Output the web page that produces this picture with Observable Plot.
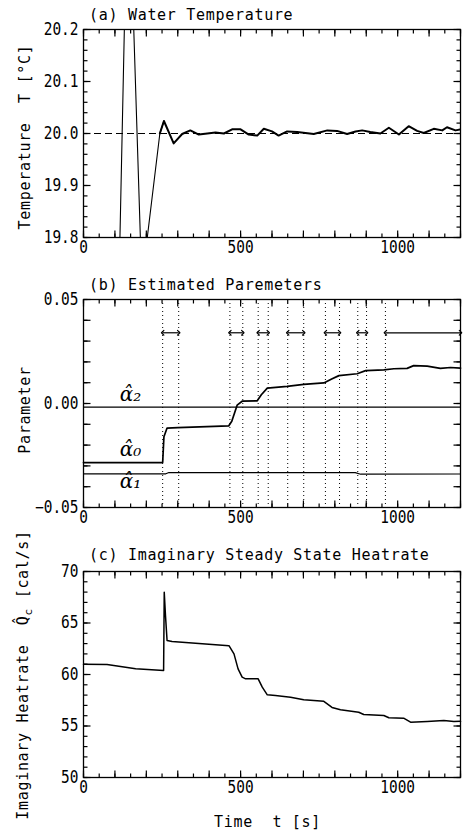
<!DOCTYPE html>
<html><head><meta charset="utf-8">
<script src="https://cdn.jsdelivr.net/npm/d3@7"></script>
<script src="https://cdn.jsdelivr.net/npm/@observablehq/plot@0.6"></script>
</head><body style="margin:0;background:#fff"><div id="root" style="position:relative;width:465px;height:833px;font-family:'DejaVu Sans Mono',monospace;color:#000"></div>
<script>
// ---------- shared x axis ----------
const xDomain = [0, 1200];
const xMinorTicks = d3.range(0, 1201, 50);
const xMajorTicks = d3.range(0, 1201, 100);
const xLabelTicks = [0, 500, 1000];

// ---------- (a) Water temperature ----------
const tempTime  = [105, 116, 130, 142, 160, 181, 186, 203, 243, 256, 287, 314, 340, 367, 394, 420, 447, 473, 500, 526, 553, 574, 600, 621, 648, 680, 733, 776, 807, 839, 866, 887, 913, 945, 972, 1004, 1035, 1062, 1083, 1115, 1142, 1157, 1184, 1200];
const tempValue = [19.49, 19.8, 20.2, 20.54, 20.2, 19.8, 19.71, 19.8, 20.0, 20.024, 19.981, 19.999, 20.006, 19.998, 20.0, 20.002, 20.0, 20.008, 20.008, 19.998, 19.996, 20.009, 20.004, 19.996, 20.004, 20.003, 19.999, 20.006, 20.005, 19.999, 20.004, 20.006, 20.003, 20.0, 20.011, 19.998, 20.014, 20.005, 20.001, 20.009, 20.006, 20.012, 20.006, 20.008];
const setPoint = [20.0];
const tempYLabels = [19.8, 19.9, 20.0, 20.1, 20.2];

// ---------- (b) Estimated parameters ----------
const alpha0Time  = [0, 252, 256, 266, 300, 462, 472, 489, 505, 553, 566, 585, 648, 701, 765, 790, 813, 871, 898, 956, 988, 1030, 1051, 1094, 1136, 1168, 1200];
const alpha0Value = [-0.0284, -0.0284, -0.016, -0.0118, -0.0116, -0.0108, -0.0085, -0.0008, 0.0011, 0.0013, 0.0042, 0.0074, 0.0082, 0.0092, 0.0099, 0.0118, 0.0134, 0.0143, 0.0158, 0.0162, 0.0167, 0.0169, 0.0182, 0.0180, 0.0169, 0.0173, 0.0170];
const alpha1Time  = [0, 262, 272, 865, 882, 1200];
const alpha1Value = [-0.0338, -0.0338, -0.0332, -0.0332, -0.0340, -0.0339];
const alpha2Time  = [0, 1200];
const alpha2Value = [-0.0017, -0.0017];
const windowLines = [252, 303, 466, 507, 556, 588, 650, 701, 770, 815, 873, 901, 961];
const arrowStart  = [252, 466, 556, 650, 770, 873, 961];
const arrowEnd    = [303, 507, 588, 701, 815, 901, 1200];
const arrowLevel  = 0.034;
const alphaNames  = ["α̂₂", "α̂₀", "α̂₁"];
const alphaLabelX = [150, 150, 150];
const alphaLabelY = [0.0042, -0.0224, -0.0374];
const paramYLabels = [-0.05, 0, 0.05];

// ---------- (c) Imaginary steady state heatrate ----------
const heatTime  = [0, 75, 166, 255, 257, 261, 266, 282, 378, 463, 479, 492, 505, 516, 556, 569, 585, 611, 659, 701, 765, 791, 818, 876, 892, 956, 972, 1019, 1041, 1094, 1147, 1179, 1200];
const heatValue = [61.0, 60.97, 60.55, 60.39, 67.99, 65.7, 63.3, 63.2, 62.98, 62.8, 62.0, 60.55, 59.74, 59.58, 59.58, 58.77, 58.03, 57.96, 57.8, 57.54, 57.4, 56.8, 56.57, 56.34, 56.12, 56.02, 55.8, 55.76, 55.37, 55.44, 55.53, 55.44, 55.45];
const heatYLabels = [50, 55, 60, 65, 70];

// ---------- helpers ----------
const root = document.getElementById("root");
const frameW = 465 - 83 - 5;

// inward ticks on all four sides: short links whose ends are placed through the scales
function frameTicks(h, yDomain, yMinor, yMajor) {
  const [y0, y1] = yDomain;
  const [x0, x1] = xDomain;
  const tx = (ticks, size) => {
    const dyv = size / h * (y1 - y0);
    return [
      Plot.link(ticks, {x1: d => d, x2: d => d, y1: () => y0, y2: () => y0 + dyv, strokeWidth: 1.2}),
      Plot.link(ticks, {x1: d => d, x2: d => d, y1: () => y1, y2: () => y1 - dyv, strokeWidth: 1.2})
    ];
  };
  const ty = (ticks, size) => {
    const dxv = size / frameW * (x1 - x0);
    return [
      Plot.link(ticks, {y1: d => d, y2: d => d, x1: () => x0, x2: () => x0 + dxv, strokeWidth: 1.2}),
      Plot.link(ticks, {y1: d => d, y2: d => d, x1: () => x1, x2: () => x1 - dxv, strokeWidth: 1.2})
    ];
  };
  return [...tx(xMinorTicks, 4), ...tx(xMajorTicks, 7), ...ty(yMinor, 4), ...ty(yMajor, 7)];
}

function panel(marginTop, h, yDomain, yMinor, yMajor, yLabels, yFormat, marks) {
  const svg = Plot.plot({
    width: 465, height: 270,
    marginLeft: 83, marginRight: 5, marginTop, marginBottom: 270 - marginTop - h,
    x: {domain: xDomain, ticks: xLabelTicks, tickSize: 0, tickPadding: 3, tickFormat: d3.format("d"), label: null},
    y: {domain: yDomain, ticks: yLabels, tickSize: 0, tickPadding: 5, tickFormat: yFormat, label: null},
    style: {fontFamily: "DejaVu Sans Mono", fontSize: "17px", color: "black"},
    marks: [...frameTicks(h, yDomain, yMinor, yMajor), ...marks, Plot.frame({strokeWidth: 1.3})]
  });
  svg.querySelectorAll("g[aria-label$='tick label'] text").forEach(t => {
    const tr = t.getAttribute("transform") || "";
    t.setAttribute("transform", tr + " scale(0.85,1)");
  });
  root.appendChild(svg);
}

// (a)
const tempRows = tempTime.map((t, i) => ({t, v: tempValue[i]}));
panel(29, 208, [19.8, 20.2], d3.range(19.8, 20.2001, 0.02), tempYLabels, tempYLabels, d3.format(".1f"), [
  Plot.ruleY(setPoint, {strokeDasharray: "7,4", strokeWidth: 1.2}),
  Plot.line(tempRows.filter(d => d.t <= 256), {x: "t", y: "v", strokeWidth: 1.1, clip: true}),
  Plot.line(tempRows.filter(d => d.t >= 243), {x: "t", y: "v", strokeWidth: 2, clip: true})
]);

// (b)
const a0 = alpha0Time.map((t, i) => ({t, v: alpha0Value[i]}));
const a1 = alpha1Time.map((t, i) => ({t, v: alpha1Value[i]}));
const a2 = alpha2Time.map((t, i) => ({t, v: alpha2Value[i]}));
const arrows = arrowStart.map((s, i) => ({s, e: arrowEnd[i], y: arrowLevel}));
const alphaRows = alphaNames.map((n, i) => ({n, x: alphaLabelX[i], y: alphaLabelY[i]}));
const paramTicks = d3.range(-0.05, 0.0501, 0.01);
panel(29, 208, [-0.05, 0.05], paramTicks, paramTicks, paramYLabels, d3.format(".2f"), [
  Plot.ruleX(windowLines, {strokeDasharray: "1,3", strokeWidth: 1}),
  Plot.link(arrows, {x1: "s", x2: "e", y1: "y", y2: "y", strokeWidth: 1.2, markerStart: "arrow-reverse", markerEnd: "arrow"}),
  Plot.line(a2, {x: "t", y: "v", strokeWidth: 1.2}),
  Plot.line(a1, {x: "t", y: "v", strokeWidth: 1.2}),
  Plot.line(a0, {x: "t", y: "v", strokeWidth: 1.7}),
  Plot.text(alphaRows, {x: "x", y: "y", text: "n", fontSize: 20, fontFamily: "DejaVu Serif", fontStyle: "italic"})
]);

// (c)
const heat = heatTime.map((t, i) => ({t, v: heatValue[i]}));
panel(31, 206, [50, 70], d3.range(50, 70.001, 1), d3.range(50, 70.001, 5), heatYLabels, d3.format("d"), [
  Plot.line(heat, {x: "t", y: "v", strokeWidth: 1.5})
]);

// ---------- titles and axis labels ----------
function addText(rotated, html, left, top) {
  const d = document.createElement("div");
  d.innerHTML = html;
  Object.assign(d.style, {position: "absolute", left: left + "px", top: top + "px", fontSize: "15px",
    letterSpacing: "0.7px", whiteSpace: "pre", lineHeight: "1"});
  if (rotated) d.style.transform = "translate(-50%,-50%) rotate(-90deg)";
  root.appendChild(d);
}
addText(false, "(a) Water Temperature", 89, 8);
addText(false, "(b) Estimated Paremeters", 89, 278);
addText(false, "(c) Imaginary Steady State Heatrate", 89, 548);
addText(false, "Time  t [s]", 214, 815);
addText(true, "Temperature  T [°C]", 25, 137);
addText(true, "Parameter", 25, 410);
addText(true, "Imaginary Heatrate  Q̂<sub style=\"font-size:11px\">c</sub> [cal/s]", 25, 675);
</script></body></html>
